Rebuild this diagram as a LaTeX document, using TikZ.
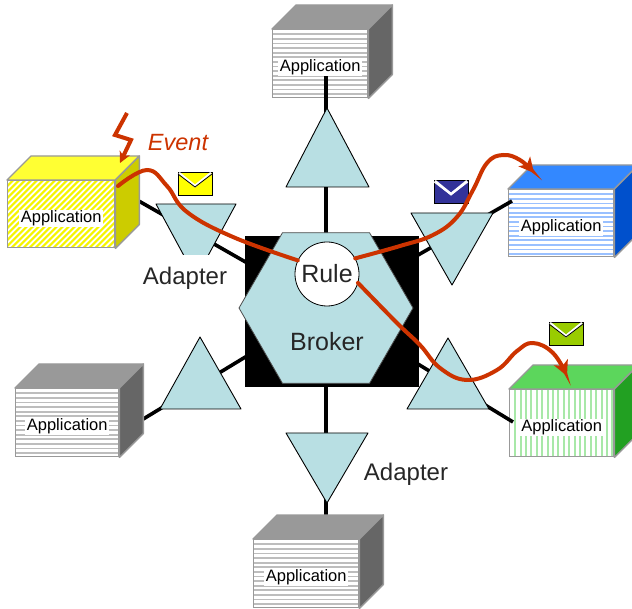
\documentclass[tikz,border=0pt]{standalone}
\usepackage{fontspec}
\setmainfont{Liberation Sans}
\usetikzlibrary{calc,arrows.meta,shapes.geometric}

\definecolor{adapterfill}{HTML}{B8DFE3}
\definecolor{flowred}{HTML}{CC3300}
\definecolor{cubeedge}{HTML}{999999}
\definecolor{labelgray}{HTML}{262626}
\definecolor{graytop}{HTML}{999999}
\definecolor{grayside}{HTML}{666666}
\definecolor{graystripe}{HTML}{BDBDBD}
\definecolor{yellowtop}{HTML}{FFFF33}
\definecolor{yellowside}{HTML}{CCCC00}
\definecolor{yellowstripe}{HTML}{F5F500}
\definecolor{bluetop}{HTML}{3388FF}
\definecolor{blueside}{HTML}{0050CC}
\definecolor{bluestripe}{HTML}{99C0FF}
\definecolor{greentop}{HTML}{5CD65C}
\definecolor{greenside}{HTML}{22A022}
\definecolor{greenstripe}{HTML}{A8E8A8}
\definecolor{mailyellow}{HTML}{FFFF00}
\definecolor{mailblue}{HTML}{333399}
\definecolor{mailgreen}{HTML}{99CC00}

% top and side face of an application cube, hung on its front node
\newcommand{\appcube}[3]{%
  \filldraw[draw=cubeedge, line width=1.4, fill=#2, line join=round]
    (#1.north west) -- ++(24,-24) -- ($(#1.north east)+(24,-24)$) -- (#1.north east) -- cycle;
  \filldraw[draw=cubeedge, line width=1.4, fill=#3, line join=round]
    (#1.north east) -- ++(24,-24) -- ($(#1.south east)+(24,-24)$) -- (#1.south east) -- cycle;
}

\begin{document}
\begin{tikzpicture}[x=1pt, y=-1pt,
    appfront/.style={draw=cubeedge, line width=1.4, fill=white, inner sep=0,
      anchor=north west},
    hstripes/.style={path picture={
      \foreach \k in {1,...,15}
        \draw[#1, line width=1.7]
          ([yshift=-\k*4.6pt]path picture bounding box.north west) --
          ([yshift=-\k*4.6pt]path picture bounding box.north east);}},
    vstripes/.style={path picture={
      \foreach \k in {1,...,20}
        \draw[#1, line width=2]
          ([xshift=\k*5.4pt]path picture bounding box.north west) --
          ([xshift=\k*5.4pt]path picture bounding box.south west);}},
    hatched/.style={path picture={
      \foreach \k in {0,...,34}
        \draw[#1, line width=2.2]
          ([xshift=\k*6pt-80pt]path picture bounding box.south west) -- ++(90,-90);}},
    applabel/.style={fill=white, inner xsep=1.5pt, inner ysep=1pt,
      font=\fontsize{16.5}{18}\selectfont},
    adapter/.style={fill=adapterfill, draw=black, line width=0.9, line join=round},
    adapterlabel/.style={fill=white, inner xsep=2pt, inner ysep=3pt,
      text height=27pt, text depth=6pt, text=labelgray,
      font=\fontsize{24}{26}\selectfont},
    link/.style={line width=3.6},
    flow/.style={flowred, line width=4, line cap=round},
    flowtip/.style={-{Stealth[length=15pt,width=15pt,inset=4pt]}},
    envelope/.style={draw=black, line width=0.8}
  ]

  \clip (0,0) rectangle (632,609);

  % broker and rule engine
  \node[regular polygon, regular polygon sides=6, minimum size=174, inner sep=0]
    (broker) at (326,308) {};
  \node[circle, minimum size=64, inner sep=0] (rule) at (327,274) {};

  % application front faces
  \node[appfront, hstripes=graystripe, minimum width=95, minimum height=68]
    (appT) at (272,29) {};
  \node[appfront, hatched=yellowstripe, minimum width=107, minimum height=67]
    (appY) at (7,180) {};
  \node[appfront, hstripes=bluestripe, minimum width=105, minimum height=67]
    (appB) at (508,189) {};
  \node[appfront, vstripes=greenstripe, minimum width=104, minimum height=67]
    (appG) at (509,389) {};
  \node[appfront, hstripes=graystripe, minimum width=103, minimum height=68]
    (appL) at (15,388) {};
  \node[appfront, hstripes=graystripe, minimum width=105, minimum height=68]
    (appD) at (253,539) {};

  % where the adapter links enter each cube
  \coordinate (inT) at (326,60);
  \coordinate (inY) at (130,196);
  \coordinate (inB) at (512,201);
  \coordinate (inG) at (513,422);
  \coordinate (inL) at (140,421);
  \coordinate (inD) at (326,525);

  % links from the broker out to the applications
  \foreach \app in {T,Y,B,G,L,D}
    \draw[link] (broker.center) -- (in\app);

  % broker box
  \fill[black] (245,236) rectangle (419,387);
  \node[regular polygon, regular polygon sides=6, minimum size=174, inner sep=0,
    fill=adapterfill, draw=black!70, line width=0.8] at (broker) {};
  \node[text=labelgray, font=\fontsize{25}{27}\selectfont] at (327,342) {Broker};
  \node[circle, minimum size=64, inner sep=0, fill=white, draw=black, line width=0.8,
    text=labelgray, font=\fontsize{25}{27}\selectfont] at (rule) {Rule};

  % adapters
  \filldraw[adapter] (327,108) -- (369,187) -- (286,187) -- cycle;
  \filldraw[adapter] (156,204) -- (236,204) -- (196,278) -- cycle;
  \filldraw[adapter] (411,213) -- (493,213) -- (452,285) -- cycle;
  \filldraw[adapter] (448,338) -- (489,409) -- (407,409) -- cycle;
  \filldraw[adapter] (200,337) -- (241,409) -- (160,409) -- cycle;
  \filldraw[adapter] (286,433) -- (368,433) -- (327,503) -- cycle;

  % application cubes
  \appcube{appT}{graytop}{grayside}
  \appcube{appY}{yellowtop}{yellowside}
  \appcube{appB}{bluetop}{blueside}
  \appcube{appG}{greentop}{greenside}
  \appcube{appL}{graytop}{grayside}
  \appcube{appD}{graytop}{grayside}

  \foreach \app in {T,Y,B,G,L,D}
    \node[applabel] (label\app) at ([yshift=-4pt]app\app.center) {Application};

  \node[adapterlabel, anchor=base] (adapterY) at (185,285) {Adapter};
  \node[adapterlabel, anchor=base, fill=none] (adapterD) at (406,480) {Adapter};

  % messages
  \foreach \ex/\ey/\ec/\fc in {178/172/mailyellow/black, 434/180/mailblue/white,
      549/322/mailgreen/black} {
    \filldraw[envelope, fill=\ec] (\ex,\ey) rectangle ++(34,23);
    \draw[white, line width=2.4] (\ex+1,\ey+1) -- (\ex+17,\ey+14) -- (\ex+33,\ey+1);
    \draw[\fc, line width=0.8] (\ex,\ey+2) -- (\ex+17,\ey+15) -- (\ex+34,\ey+2);
  }

  % event flow through the rule
  \draw[flow] plot[smooth, tension=0.7] coordinates {
    (118,186) (147,170) (167,186) (187,212) (233,237) (rule.155)
  };
  \draw[flow, flowtip] plot[smooth, tension=0.7] coordinates {
    (rule.29) (400,246) (433,235) (457,217) (473,190) (487,163)
    (503,155) (520,160) (534,173)
  };
  \draw[flow, flowtip] plot[smooth, tension=0.7] coordinates {
    (rule.-16) (397,323) (420,345) (440,368) (467,380) (497,370)
    (517,351) (533,343) (553,353) (567,376)
  };

  % the triggering event
  \draw[flow, line cap=butt, line join=miter, -{Stealth[length=11pt,width=11pt,inset=3pt]}]
    (127,113) -- (115,135) -- (131,140) -- (120,163);
  \node[text=flowred, font=\fontsize{23.5}{25}\itshape] (event) at (178,143) {Event};

\end{tikzpicture}
\end{document}
